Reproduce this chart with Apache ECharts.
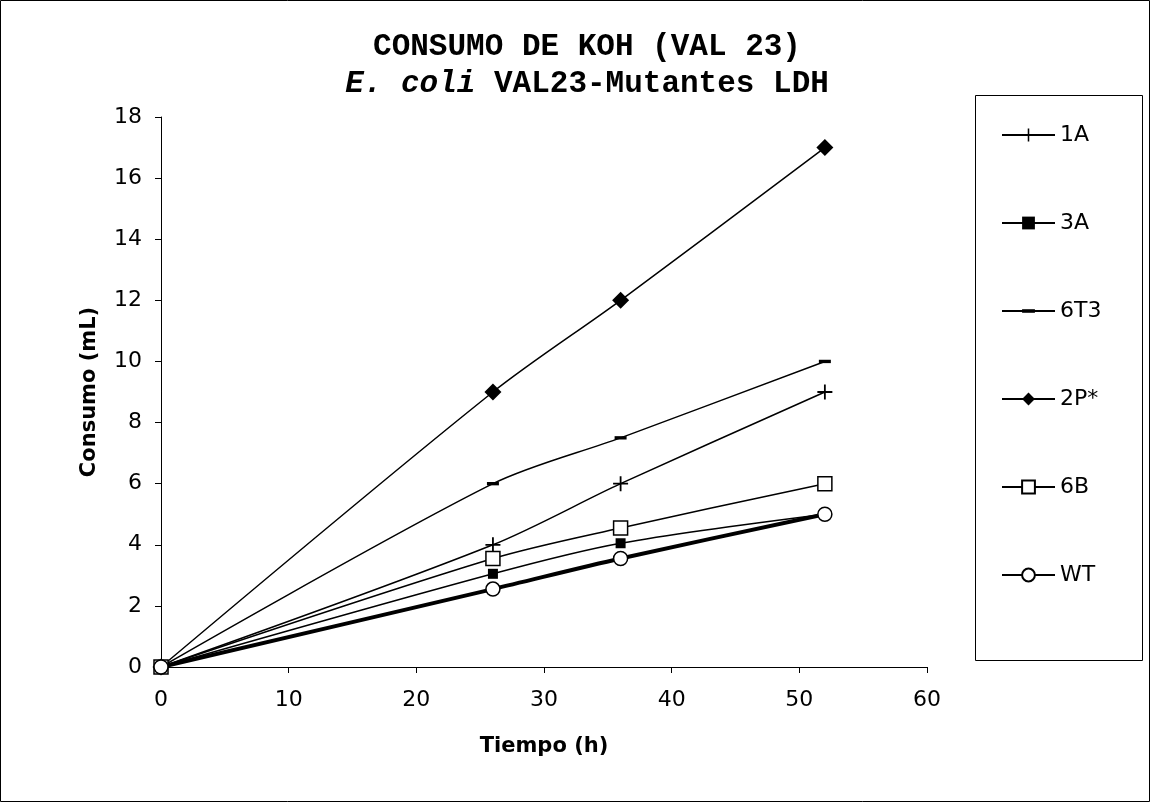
<!DOCTYPE html>
<html>
<head>
<meta charset="utf-8">
<title>Consumo de KOH (VAL 23)</title>
<script src="https://cdn.jsdelivr.net/npm/echarts@6/dist/echarts.min.js"></script>
<style>
  html, body { margin: 0; padding: 0; background: #fff; }
  #chart { width: 1151px; height: 803px; }
</style>
</head>
<body>
<div id="chart"></div>
<script>
// Sampling times (h)
const tiempo = [0, 26, 36, 52];

// KOH consumed (mL) for each strain
const serie1A  = [0, 4.0, 6.0, 9.0];
const serie3A  = [0, 3.05, 4.05, 5.0];
const serie6T3 = [0, 6.0, 7.5, 10.0];
const serie2P  = [0, 9.0, 12.0, 17.0];
const serie6B  = [0, 3.55, 4.55, 6.0];
const serieWT  = [0, 2.55, 3.55, 5.0];

const nombres = ['1A', '3A', '6T3', '2P*', '6B', 'WT'];

// Marker shapes
const plusPath = 'path://M4.4,0 H5.6 V4.4 H10 V5.6 H5.6 V10 H4.4 V5.6 H0 V4.4 H4.4 Z';
const dashPath = 'path://M0,0 M10,10 M0,3.6 H10 V6.4 H0 Z';

function pares(vals) {
  return tiempo.map((t, i) => [t, vals[i]]);
}

function linea(name, vals, symbol, size, fill, width) {
  return {
    name: name,
    type: 'line',
    data: pares(vals),
    smooth: 0.3,
    symbol: symbol,
    symbolSize: size,
    lineStyle: { color: '#000', width: width },
    itemStyle: { color: fill, borderColor: '#000', borderWidth: fill === '#fff' ? 1.5 : 0 },
    emphasis: { disabled: true },
    z: 2
  };
}

const chart = echarts.init(document.getElementById('chart'), null, { renderer: 'canvas' });

const fuenteTexto = '"DejaVu Sans", Verdana, sans-serif';
const fuenteTitulo = '"Liberation Mono", "Courier New", monospace';

chart.setOption({
  animation: false,
  backgroundColor: '#fff',
  title: {
    left: 582,
    top: 24,
    textAlign: 'center',
    text: '{a|CONSUMO DE KOH (VAL 23)}\n{i|E. coli}{a| VAL23-Mutantes LDH}',
    textStyle: {
      rich: {
        a: { fontFamily: fuenteTitulo, fontWeight: 'bold', fontSize: 31, lineHeight: 37, color: '#000' },
        i: { fontFamily: fuenteTitulo, fontWeight: 'bold', fontStyle: 'italic', fontSize: 31, lineHeight: 37, color: '#000' }
      }
    }
  },
  grid: { left: 161, right: 224, top: 117, bottom: 136, containLabel: false },
  xAxis: {
    type: 'value',
    min: 0, max: 60, interval: 10,
    name: 'Tiempo (h)',
    nameLocation: 'middle',
    nameGap: 69,
    nameTextStyle: { fontFamily: fuenteTexto, fontWeight: 'bold', fontSize: 21, color: '#000' },
    axisLine: { show: true, onZero: false, lineStyle: { color: '#000', width: 1 } },
    axisTick: { show: true, inside: false, length: 6, lineStyle: { color: '#000' } },
    axisLabel: { margin: 22, fontFamily: fuenteTexto, fontSize: 22, color: '#000' },
    splitLine: { show: false }
  },
  yAxis: {
    type: 'value',
    min: 0, max: 18, interval: 2,
    name: 'Consumo (mL)',
    nameLocation: 'middle',
    nameGap: 61,
    nameRotate: 90,
    nameTextStyle: { fontFamily: fuenteTexto, fontWeight: 'bold', fontSize: 21, color: '#000' },
    axisLine: { show: true, lineStyle: { color: '#000', width: 1 } },
    axisTick: { show: true, inside: false, length: 6, lineStyle: { color: '#000' } },
    axisLabel: { margin: 19, fontFamily: fuenteTexto, fontSize: 22, color: '#000' },
    splitLine: { show: false }
  },
  legend: {
    orient: 'vertical',
    left: 996,
    top: 117,
    itemWidth: 53,
    itemHeight: 16,
    itemGap: 62,
    data: nombres,
    selectedMode: false,
    textStyle: { fontFamily: fuenteTexto, fontSize: 22, color: '#000', lineHeight: 26 }
  },
  graphic: [
    { type: 'rect', shape: { x: 0.5, y: 0.5, width: 1149, height: 801 }, style: { fill: 'none', stroke: '#000', lineWidth: 1 }, silent: true },
    { type: 'rect', shape: { x: 975.5, y: 95.5, width: 167, height: 565 }, style: { fill: 'none', stroke: '#000', lineWidth: 1 }, silent: true }
  ],
  series: [
    linea('1A', serie1A, plusPath, 15, '#000', 1.5),
    linea('3A', serie3A, 'rect', 10, '#000', 1.5),
    linea('6T3', serie6T3, dashPath, 12, '#000', 1.5),
    linea('2P*', serie2P, 'diamond', 17, '#000', 1.5),
    linea('6B', serie6B, 'rect', 14, '#fff', 1.5),
    linea('WT', serieWT, 'circle', 14, '#fff', 4)
  ]
});
</script>
</body>
</html>
